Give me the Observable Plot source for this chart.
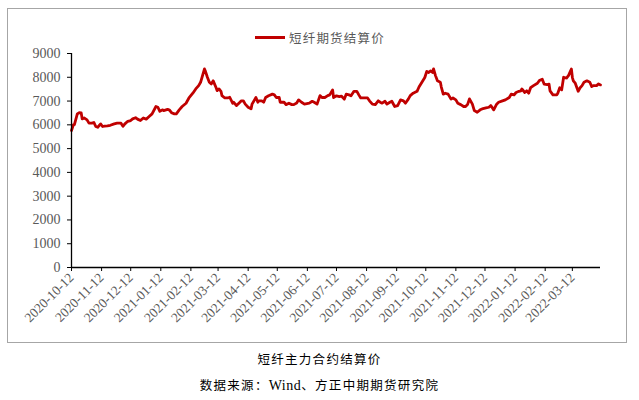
<!DOCTYPE html>
<html>
<head>
<meta charset="utf-8">
<script src="https://cdn.jsdelivr.net/npm/d3@7"></script>
<script src="https://cdn.jsdelivr.net/npm/@observablehq/plot@0.6"></script>
<style>
  html, body { margin: 0; padding: 0; background: #fff; }
  #wrap { position: relative; width: 639px; height: 400px; overflow: hidden; }
  #frame { position: absolute; left: 7px; top: 8px; width: 620px; height: 335px; border: 1px solid #a6a6a6; box-sizing: border-box; }
  #chart { position: absolute; left: 0; top: 0; }
  #legend { position: absolute; left: 255px; top: 28px; height: 18px; display: flex; align-items: center;
            font-family: "Noto Sans CJK SC", sans-serif; font-size: 12.5px; color: #595959; letter-spacing: 1.2px; }
  #legend .sw { width: 30px; height: 3px; background: #C00000; margin-right: 4px; }
  .cap { position: absolute; left: 0; width: 639px; text-align: center; font-family: "Noto Sans CJK SC", sans-serif;
         font-size: 12.5px; color: #000; letter-spacing: 1.3px; }
  .cap .lat { font-family: "Liberation Serif", serif; font-size: 14px; letter-spacing: 0.5px; }
  g[aria-label$="tick label"] { fill: #595959; }
</style>
</head>
<body>
<div id="wrap">
  <div id="frame"></div>
  <div id="chart"></div>
  <div id="legend"><div class="sw"></div><span>短纤期货结算价</span></div>
  <div class="cap" style="top:349px;">短纤主力合约结算价</div>
  <div class="cap" style="top:375px;">数据来源：<span class="lat">Wind</span>、方正中期期货研究院</div>
</div>
<script>
const dates = [
"2020-10-12","2020-10-14","2020-10-15","2020-10-18","2020-10-20","2020-10-22","2020-10-23","2020-10-25","2020-10-28","2020-10-30",
"2020-11-02","2020-11-04","2020-11-06","2020-11-08","2020-11-11","2020-11-13","2020-11-15","2020-11-18","2020-11-21","2020-11-25",
"2020-11-28","2020-12-02","2020-12-04","2020-12-06","2020-12-09","2020-12-12","2020-12-14","2020-12-17","2020-12-19","2020-12-22",
"2020-12-25","2020-12-28","2020-12-31","2021-01-03","2021-01-07","2021-01-09","2021-01-11","2021-01-14","2021-01-15","2021-01-19",
"2021-01-21","2021-01-23","2021-01-26","2021-01-28","2021-01-31","2021-02-03","2021-02-07","2021-02-10","2021-02-14","2021-02-17",
"2021-02-20","2021-02-22","2021-02-24","2021-02-26","2021-02-27","2021-03-01","2021-03-03","2021-03-05","2021-03-07","2021-03-10",
"2021-03-11","2021-03-13","2021-03-15","2021-03-16","2021-03-19","2021-03-22","2021-03-24","2021-03-27","2021-03-28","2021-03-31",
"2021-04-03","2021-04-05","2021-04-07","2021-04-09","2021-04-12","2021-04-15","2021-04-16","2021-04-19","2021-04-20","2021-04-22",
"2021-04-23","2021-04-26","2021-04-28","2021-04-30","2021-05-03","2021-05-07","2021-05-09","2021-05-11","2021-05-14","2021-05-15",
"2021-05-19","2021-05-21","2021-05-24","2021-05-27","2021-05-29","2021-06-01","2021-06-03","2021-06-06","2021-06-09","2021-06-14",
"2021-06-17","2021-06-19","2021-06-22","2021-06-25","2021-06-27","2021-06-30","2021-07-03","2021-07-05","2021-07-08","2021-07-09",
"2021-07-12","2021-07-15","2021-07-17","2021-07-20","2021-07-22","2021-07-25","2021-07-27","2021-07-30","2021-08-02","2021-08-04",
"2021-08-06","2021-08-09","2021-08-13","2021-08-15","2021-08-18","2021-08-21","2021-08-24","2021-08-26","2021-08-28","2021-08-31",
"2021-09-02","2021-09-05","2021-09-07","2021-09-10","2021-09-13","2021-09-16","2021-09-19","2021-09-21","2021-09-24","2021-09-26",
"2021-09-29","2021-10-03","2021-10-05","2021-10-08","2021-10-11","2021-10-13","2021-10-15","2021-10-17","2021-10-19","2021-10-20",
"2021-10-22","2021-10-24","2021-10-27","2021-10-28","2021-10-30","2021-11-01","2021-11-04","2021-11-07","2021-11-09","2021-11-12",
"2021-11-14","2021-11-17","2021-11-20","2021-11-22","2021-11-24","2021-11-26","2021-11-29","2021-12-01","2021-12-04","2021-12-07",
"2021-12-09","2021-12-13","2021-12-16","2021-12-18","2021-12-21","2021-12-24","2021-12-26","2021-12-30","2022-01-02","2022-01-06",
"2022-01-08","2022-01-11","2022-01-13","2022-01-16","2022-01-18","2022-01-19","2022-01-22","2022-01-24","2022-01-26","2022-01-28",
"2022-01-31","2022-02-04","2022-02-06","2022-02-09","2022-02-11","2022-02-14","2022-02-16","2022-02-17","2022-02-20","2022-02-24",
"2022-02-25","2022-02-27","2022-03-01","2022-03-03","2022-03-06","2022-03-08","2022-03-11","2022-03-12","2022-03-13","2022-03-15",
"2022-03-18","2022-03-20","2022-03-22","2022-03-24","2022-03-27","2022-03-30","2022-04-01","2022-04-03","2022-04-06","2022-04-08",
"2022-04-10"
];
const prices = [
5760,6010,6010,6460,6510,6500,6250,6290,6210,6070,
6070,6100,5930,5900,6040,5930,5950,5960,5980,6040,
6070,6070,5940,6040,6150,6180,6250,6300,6240,6180,
6290,6240,6350,6460,6770,6740,6570,6630,6600,6650,
6620,6510,6460,6460,6630,6770,6910,7130,7330,7510,
7650,7790,8070,8350,8250,8000,7790,7720,7850,7560,
7440,7510,7410,7230,7130,7130,7160,6910,6950,6810,
6930,7010,7010,6870,6740,6670,6870,7080,7150,6950,
7010,7010,6950,7150,7220,7290,7260,7150,7150,6950,
6950,6850,6910,6850,6850,6920,7050,6950,6870,6910,
6990,6950,6870,7230,7150,7150,7230,7260,7470,7150,
7220,7190,7210,7080,7290,7260,7220,7410,7410,7260,
7130,7130,7130,7010,6870,6850,7010,6950,6910,6990,
6870,6950,6990,6770,6810,7050,7010,6910,7080,7230,
7330,7410,7590,7790,7990,8250,8200,8270,8200,8350,
8070,7850,7790,7590,7290,7330,7290,7080,7130,7050,
6910,6850,6770,6770,6850,7090,6870,6600,6530,6630,
6670,6710,6740,6810,6630,6870,6950,7010,7050,7150,
7290,7260,7360,7410,7430,7510,7360,7430,7330,7560,
7650,7750,7860,7920,7710,7690,7710,7430,7260,7260,
7330,7560,7470,8000,7970,8070,8350,8000,7850,7750,
7410,7560,7650,7790,7850,7790,7610,7650,7650,7720,
7680
];
const xTickLabels = ["2020-10-12","2020-11-12","2020-12-12","2021-01-12","2021-02-12","2021-03-12","2021-04-12","2021-05-12","2021-06-12","2021-07-12","2021-08-12","2021-09-12","2021-10-12","2021-11-12","2021-12-12","2022-01-12","2022-02-12","2022-03-12"];
const yTicks = [0,1000,2000,3000,4000,5000,6000,7000,8000,9000];
const xDomain = ["2020-10-12","2022-04-10"];

const data = dates.map((d, i) => ({date: new Date(d), price: prices[i]}));
const fmt = d3.utcFormat("%Y-%m-%d");

const chart = Plot.plot({
  width: 639,
  height: 345,
  marginLeft: 71,
  marginRight: 39,
  marginTop: 53,
  marginBottom: 78,
  style: {fontFamily: "'Liberation Serif', serif", background: "transparent", color: "#000"},
  x: {type: "utc", domain: xDomain.map(d => new Date(d)), label: null},
  y: {domain: [0, 9000], label: null},
  marks: [
    Plot.axisY({ticks: yTicks, tickSize: 4, tickPadding: 7, fontSize: 14, tickFormat: d => String(d), label: null}),
    Plot.axisX({ticks: xTickLabels.map(d => new Date(d)), tickFormat: fmt, tickRotate: -45, tickSize: 4, tickPadding: 4, fontSize: 13.5, label: null}),
    Plot.lineY(data, {x: "date", y: "price", stroke: "#C00000", strokeWidth: 2.8, strokeLinejoin: "round"}),
    Plot.ruleY([0], {stroke: "#000", strokeWidth: 1.3}),
    Plot.ruleX([new Date(xDomain[0])], {stroke: "#000", strokeWidth: 1.3})
  ]
});
document.getElementById("chart").appendChild(chart);
</script>
</body>
</html>
